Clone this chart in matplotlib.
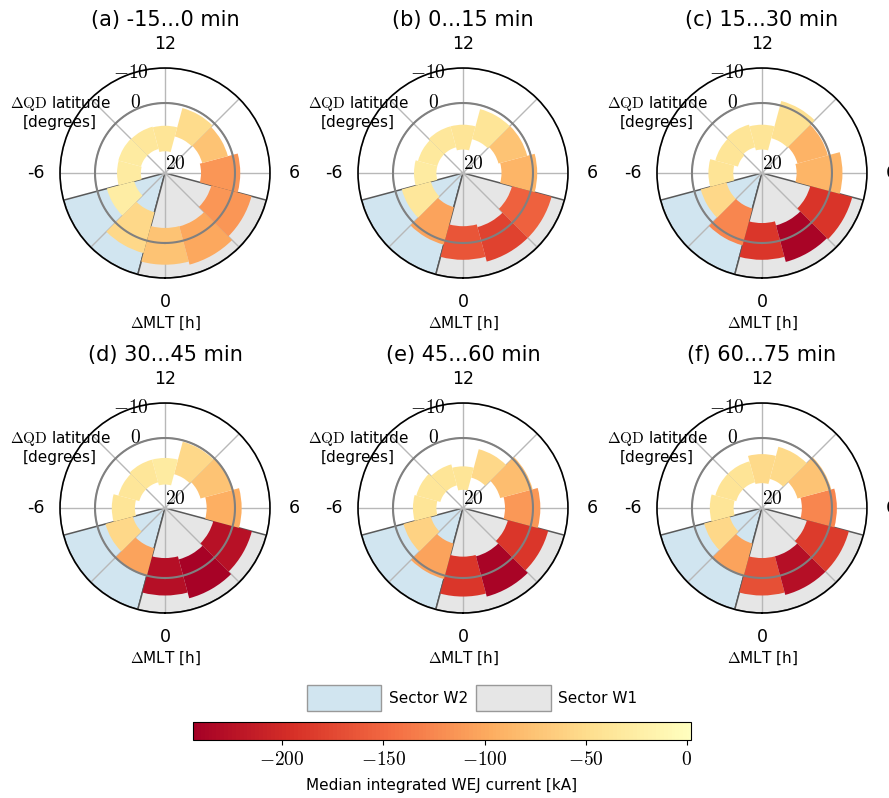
import numpy as np
import matplotlib.pyplot as plt
from matplotlib.colors import LinearSegmentedColormap, Normalize
from matplotlib.patches import Patch
from matplotlib.cm import ScalarMappable
from matplotlib.ticker import FuncFormatter

plt.rcParams['font.family'] = 'DejaVu Sans'
plt.rcParams['mathtext.fontset'] = 'cm'

# MLT bin centres (2 h wide bins)
mlt = [0, 2, 4, 6, 8, 10, 12, -10, -8, -6, -4, -2]

titles = ['(a) -15...0 min', '(b) 0...15 min', '(c) 15...30 min',
          '(d) 30...45 min', '(e) 45...60 min', '(f) 60...75 min']

# poleward / equatorward boundary (delta QD latitude) and median current (kA)
pole_a = [4.3, 4.2, 6.3, 9.7, 9.0, 9.2, 13.8, 12.9, 12.9, 13.1, 10.9, 8.4]
equ_a = [-6.2, -7.1, -5.6, -1.5, 1.4, 0.8, 6.5, 6.3, 6.2, 6.3, 2.8, -3.7]
cur_a = [-75, -100, -115, -115, -75, -50, -40, -35, -30, -30, -25, -55]

pole_b = [4.8, 4.0, 5.5, 9.0, 9.5, 10.0, 13.3, 12.4, 12.4, 12.4, 10.5, 9.9]
equ_b = [-4.8, -6.2, -6.2, -1.2, 1.0, 1.1, 6.2, 6.2, 6.7, 6.0, 1.9, -1.2]
cur_b = [-165, -180, -155, -90, -75, -40, -40, -35, -33, -30, -35, -105]

pole_c = [5.7, 4.5, 5.7, 10.1, 9.5, 9.7, 13.3, 12.4, 12.9, 11.8, 9.5, 9.5]
equ_c = [-4.8, -6.3, -6.7, -3.0, 0.5, -1.3, 6.2, 5.7, 6.2, 4.7, 1.9, -1.4]
cur_c = [-190, -240, -192, -90, -92, -45, -40, -40, -40, -42, -55, -125]

pole_d = [5.7, 4.8, 5.7, 8.1, 9.5, 10.0, 13.3, 12.4, 12.4, 11.4, 10.5, 8.1]
equ_d = [-5.0, -6.7, -5.7, -1.9, 0.0, 0.4, 5.7, 5.7, 6.2, 4.8, 2.4, 0.0]
cur_d = [-228, -242, -225, -95, -75, -55, -30, -38, -38, -40, -55, -105]

pole_e = [6.1, 5.7, 6.7, 8.0, 9.0, 11.0, 14.8, 13.3, 13.3, 12.4, 10.5, 9.5]
equ_e = [-5.3, -6.2, -5.2, -2.1, -0.6, 2.6, 8.1, 7.1, 6.2, 5.7, 2.4, -1.0]
cur_e = [-190, -240, -190, -112, -82, -55, -40, -40, -38, -40, -60, -105]

pole_f = [5.7, 5.7, 6.7, 8.6, 9.5, 11.4, 12.9, 12.4, 12.4, 11.9, 10.5, 9.5]
equ_f = [-5.0, -5.7, -5.7, -1.4, -0.5, 1.9, 4.6, 6.2, 6.2, 5.1, 2.9, 0.0]
cur_f = [-168, -228, -185, -125, -75, -52, -52, -42, -42, -40, -55, -105]

poles = [pole_a, pole_b, pole_c, pole_d, pole_e, pole_f]
equs = [equ_a, equ_b, equ_c, equ_d, equ_e, equ_f]
curs = [cur_a, cur_b, cur_c, cur_d, cur_e, cur_f]

# sectors in MLT [h]
w2_range = [-5, -1]
w1_range = [-1, 5]

cmap = LinearSegmentedColormap.from_list(
    'rdyl', plt.get_cmap('RdYlBu')(np.linspace(0, 0.5, 256)))
norm = Normalize(vmin=-244, vmax=2)

h2rad = 2 * np.pi / 24

fig = plt.figure(figsize=(8.89, 7.98), dpi=100)

lefts = [0.0675, 0.4027, 0.739]
bottoms = [0.6516, 0.2318]
w, h = 0.2362, 0.2632

for i in range(6):
    ax = fig.add_axes([lefts[i % 3], bottoms[i // 3], w, h], projection='polar')
    ax.set_theta_zero_location('S')
    ax.set_theta_direction(1)
    ax.set_ylim(20, -10)

    # sectors
    for rng, col in [(w2_range, '#d1e5f0'), (w1_range, '#e6e6e6')]:
        c = (rng[0] + rng[1]) / 2 * h2rad
        ax.bar(c, -30, width=(rng[1] - rng[0]) * h2rad, bottom=20,
               color=col, edgecolor='0.35', linewidth=1.1, zorder=1)

    # WEJ bins
    theta = np.array(mlt) * h2rad
    height = np.array(equs[i]) - np.array(poles[i])
    ax.bar(theta, height, width=2 * h2rad, bottom=poles[i],
           color=cmap(norm(np.array(curs[i]))), linewidth=0, zorder=2)

    # latitude 0 circle
    tt = np.linspace(0, 2 * np.pi, 361)
    ax.plot(tt, np.zeros_like(tt), color='0.5', lw=1.5, zorder=3)

    ax.set_thetagrids(np.arange(0, 360, 45),
                      ['0', '', '6', '', '12', '', '-6', ''], fontsize=12.5)
    ax.tick_params(axis='x', pad=7)
    ax.set_rgrids([-10, 0, 20], ['$-10$', '$0$', '$20$'], angle=210, fontsize=14)
    ax.grid(True, color='0.72', lw=1)
    ax.spines['polar'].set_linewidth(1.2)

    ax.set_title(titles[i], fontsize=15, y=1.2, pad=0)
    ax.text(0.5, -0.215, r'$\Delta$MLT [h]', transform=ax.transAxes,
            ha='center', va='center', fontsize=11)
    ax.text(0.0, 0.79, '$\\Delta\\mathrm{QD}$ latitude\n[degrees]',
            transform=ax.transAxes, ha='center', va='center', fontsize=11)

handles = [Patch(facecolor='#d1e5f0', edgecolor='0.6'),
           Patch(facecolor='#e6e6e6', edgecolor='0.6')]
fig.legend(handles, ['Sector W2', 'Sector W1'], loc='center',
           bbox_to_anchor=(472 / 889, 1 - 698 / 798), ncol=2, frameon=False,
           fontsize=11, handlelength=4.9, handleheight=2.3,
           handletextpad=0.5, columnspacing=0.5)

cax = fig.add_axes([193 / 889, 58 / 798, 498 / 889, 18 / 798])
cb = fig.colorbar(ScalarMappable(norm=norm, cmap=cmap), cax=cax,
                  orientation='horizontal', ticks=[-200, -150, -100, -50, 0],
                  format=FuncFormatter(lambda v, p: f'${v:g}$'))
cb.ax.tick_params(labelsize=14)
cb.set_label('Median integrated WEJ current [kA]', fontsize=11, labelpad=7)

fig.savefig('out.png', dpi=100)
